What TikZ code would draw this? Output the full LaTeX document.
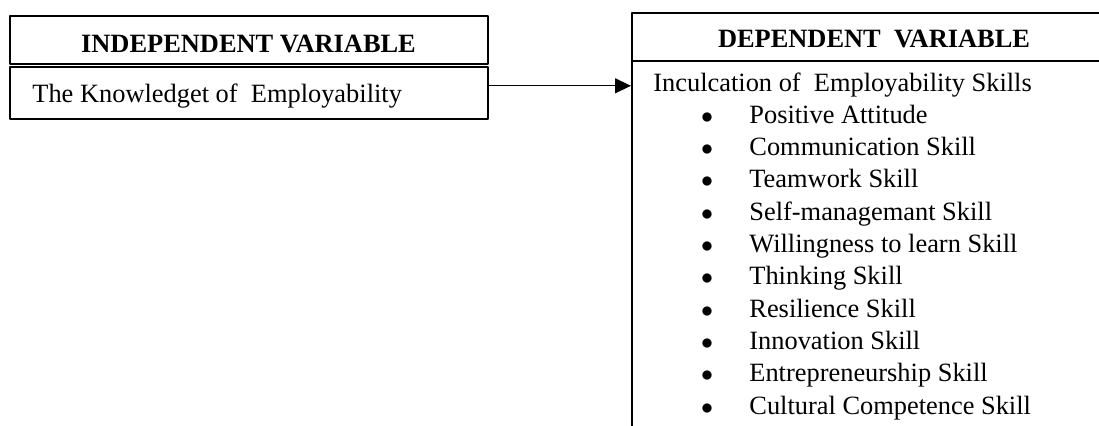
\documentclass[tikz,border=0pt]{standalone}
\usepackage{fontspec}
\setmainfont{Liberation Serif}
\usetikzlibrary{arrows.meta}
\tikzset{
    varbox/.style={draw,line width=1pt,inner sep=0pt},
    vartext/.style={inner sep=0pt,font=\fontsize{13.2}{16}\selectfont},
    varhead/.style={vartext,font=\fontsize{13.2}{16}\selectfont\bfseries},
}

\begin{document}
\begin{tikzpicture}[line cap=round,line join=round,x=0.5pt,y=-0.5pt]
    \useasboundingbox (0,0) rectangle (1099,425);
    \clip (0,0) rectangle (1099,425);
    % independent side
    \node[varbox,minimum width=239pt,minimum height=24pt] (ivhead) at (248.5,40) {};
    \node[varbox,minimum width=239pt,minimum height=26pt] (ivbody) at (248.5,92.8) {};
    \node[varhead,anchor=base] (ivtitle) at (248.5,52) {INDEPENDENT VARIABLE};
    \node[vartext,anchor=base west] (ivitem) at (32,102) {The Knowledget of\ \ Employability};
    % dependent side, runs off the page
    \node[varbox,minimum width=242pt,minimum height=24pt] (dvhead) at (874,37) {};
    \node[varbox,minimum width=242pt,minimum height=200pt] (dvbody) at (874,260.7) {};
    \node[varhead,anchor=base] (dvtitle) at (874,47) {DEPENDENT\ \ VARIABLE};
    \node[vartext,anchor=base west] (dvitem) at (653,91) {Inculcation of\ \ Employability Skills};
    \node[vartext,anchor=base] (dot1) at (707,123.3) {$\bullet$};
    \node[vartext,anchor=base] (dot2) at (707,155.6) {$\bullet$};
    \node[vartext,anchor=base] (dot3) at (707,187.9) {$\bullet$};
    \node[vartext,anchor=base] (dot4) at (707,220.2) {$\bullet$};
    \node[vartext,anchor=base] (dot5) at (707,252.5) {$\bullet$};
    \node[vartext,anchor=base] (dot6) at (707,284.8) {$\bullet$};
    \node[vartext,anchor=base] (dot7) at (707,317.1) {$\bullet$};
    \node[vartext,anchor=base] (dot8) at (707,349.4) {$\bullet$};
    \node[vartext,anchor=base] (dot9) at (707,381.7) {$\bullet$};
    \node[vartext,anchor=base] (dot10) at (707,414) {$\bullet$};
    \node[vartext,anchor=base west] (skill1) at (749,123.3) {Positive Attitude};
    \node[vartext,anchor=base west] (skill2) at (749,155.6) {Communication Skill};
    \node[vartext,anchor=base west] (skill3) at (749,187.9) {Teamwork Skill};
    \node[vartext,anchor=base west] (skill4) at (749,220.2) {Self-managemant Skill};
    \node[vartext,anchor=base west] (skill5) at (749,252.5) {Willingness to learn Skill};
    \node[vartext,anchor=base west] (skill6) at (749,284.8) {Thinking Skill};
    \node[vartext,anchor=base west] (skill7) at (749,317.1) {Resilience Skill};
    \node[vartext,anchor=base west] (skill8) at (749,349.4) {Innovation Skill};
    \node[vartext,anchor=base west] (skill9) at (749,381.7) {Entrepreneurship Skill};
    \node[vartext,anchor=base west] (skill10) at (749,414) {Cultural Competence Skill};
    % link
    \draw [line width=0.6pt,-{Triangle[length=8pt,width=7.5pt]}] ([yshift=3.5pt]ivbody.east) -- ([yshift=3.5pt]ivbody.east -| dvbody.west);
\end{tikzpicture}
\end{document}
